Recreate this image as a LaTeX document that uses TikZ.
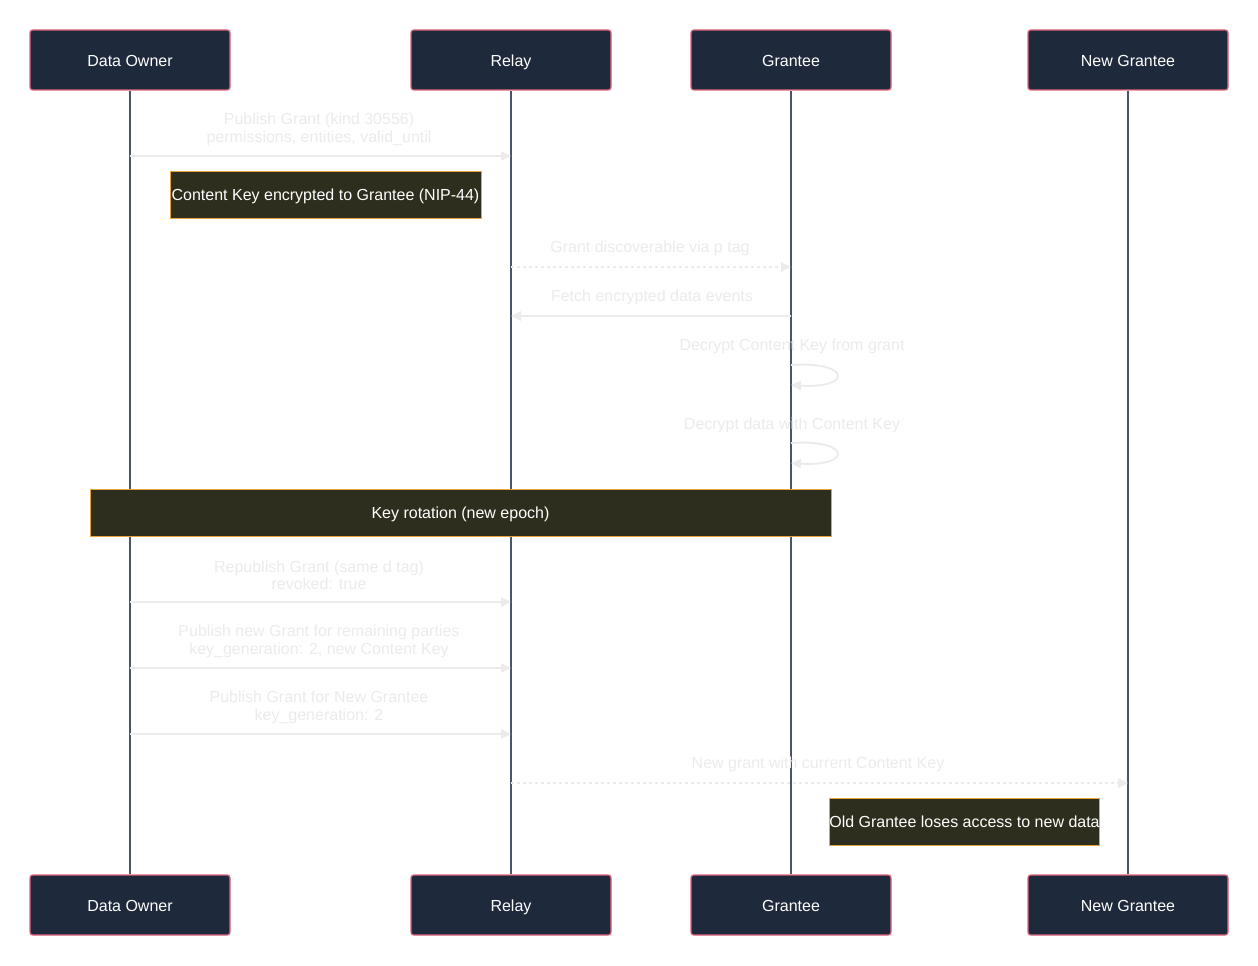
\documentclass[tikz,border=0pt]{standalone}
\usepackage{fontspec}
\setmainfont{Liberation Sans}
\usetikzlibrary{arrows.meta}
\definecolor{actfill}{HTML}{1E293B}
\definecolor{actborder}{HTML}{E0647C}
\definecolor{lifeline}{HTML}{4A5568}
\definecolor{notefill}{HTML}{2E2E1E}
\definecolor{noteborder}{HTML}{E8A33D}
\definecolor{msg}{HTML}{EBEBEB}
\tikzset{
  actor/.style={draw=actborder, line width=0.9pt, fill=actfill, rounded corners=2pt,
    minimum width=150pt, minimum height=45pt, inner sep=0pt, text=white,
    text height=9.3pt, text depth=0pt, font=\fontsize{12}{14}\selectfont},
  life/.style={draw=lifeline, line width=1.4pt},
  note/.style={draw=noteborder, line width=0.6pt, fill=notefill, inner sep=0pt,
    minimum height=35.25pt, text=white, text height=9.3pt, text depth=0pt,
    font=\fontsize{12}{14}\selectfont},
  msgline/.style={draw=msg, line width=1.4pt, -{Triangle[length=7.5pt,width=7pt]}},
  msgdot/.style={msgline, dash pattern=on 2pt off 2.5pt},
  lbl/.style={text=msg, font=\fontsize{12}{13}\selectfont, align=center, inner sep=0pt},
}
\begin{document}
\begin{tikzpicture}[x=0.75pt,y=-0.75pt]
\useasboundingbox (0,0) rectangle (1258,966);
\node[actor] (dot) at (130,60) {Data Owner};
\node[actor] (rt) at (511,60) {Relay};
\node[actor] (gt) at (791,60) {Grantee};
\node[actor] (nt) at (1128,60) {New Grantee};
\node[actor] (dob) at (130,905) {Data Owner};
\node[actor] (rb) at (511,905) {Relay};
\node[actor] (gb) at (791,905) {Grantee};
\node[actor] (nb) at (1128,905) {New Grantee};
\draw[life] (dot.south) -- (dob.north);
\draw[life] (rt.south) -- (rb.north);
\draw[life] (gt.south) -- (gb.north);
\draw[life] (nt.south) -- (nb.north);
% message 1
\coordinate (a1) at (130,156); \coordinate (b1) at (511,156);
\draw[msgline] (a1) -- (b1);
\node[lbl] (l1) at (319,129.5) {Publish Grant (kind 30556)\\permissions, entities, valid\_until};
% note 1
\node[note, minimum width=233.25pt] (n1) at (325.5,194.5) {Content Key encrypted to Grantee (NIP-44)};
% message 2
\coordinate (a2) at (511,267); \coordinate (b2) at (791,267);
\draw[msgdot] (a2) -- (b2);
\node[lbl] (l2) at (650,248.5) {Grant discoverable via p tag};
% message 3
\coordinate (a3) at (791,316); \coordinate (b3) at (511,316);
\draw[msgline] (a3) -- (b3);
\node[lbl] (l3) at (652,297.5) {Fetch encrypted data events};
% self 1
\coordinate (a4) at (791,365); \coordinate (b4) at (791,385);
\node[lbl] (l4) at (792,346.5) {Decrypt Content Key from grant};
\draw[msgline] (a4) .. controls (852,361) and (852,389) .. (b4);
% self 2
\coordinate (a5) at (791,443); \coordinate (b5) at (791,463);
\node[lbl] (l5) at (792,425.5) {Decrypt data with Content Key};
\draw[msgline] (a5) .. controls (852,439) and (852,467) .. (b5);
% note 2
\node[note, minimum width=555.75pt] (n2) at (460.5,512.5) {Key rotation (new epoch)};
% message 6
\coordinate (a6) at (130,602); \coordinate (b6) at (511,602);
\draw[msgline] (a6) -- (b6);
\node[lbl] (l6) at (319,575.5) {Republish Grant (same d tag)\\revoked: true};
% message 7
\coordinate (a7) at (130,668); \coordinate (b7) at (511,668);
\draw[msgline] (a7) -- (b7);
\node[lbl] (l7) at (319,641.5) {Publish new Grant for remaining parties\\key\_generation: 2, new Content Key};
% message 8
\coordinate (a8) at (130,734); \coordinate (b8) at (511,734);
\draw[msgline] (a8) -- (b8);
\node[lbl] (l8) at (319,707.5) {Publish Grant for New Grantee\\key\_generation: 2};
% message 9
\coordinate (a9) at (511,783); \coordinate (b9) at (1128,783);
\draw[msgdot] (a9) -- (b9);
\node[lbl] (l9) at (818,764.5) {New grant with current Content Key};
% note 3
\node[note, minimum width=200.25pt] (n3) at (964.5,821.5) {Old Grantee loses access to new data};
\end{tikzpicture}
\end{document}
